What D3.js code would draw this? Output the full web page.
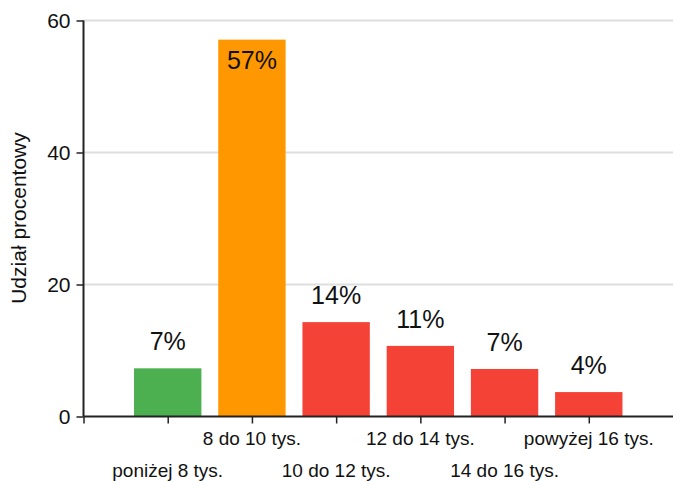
<!DOCTYPE html>
<html>
<head>
<meta charset="utf-8">
<script src="https://cdn.jsdelivr.net/npm/d3@7"></script>
<style>
    body { margin: 0; background: #fff; }
    svg text { font-family: "Liberation Sans", Arial, sans-serif; fill: #111; }
</style>
</head>
<body>
<div id="chart"></div>
<script>
// chart data
const categories = ["poniżej 8 tys.", "8 do 10 tys.", "10 do 12 tys.", "12 do 14 tys.", "14 do 16 tys.", "powyżej 16 tys."];
const shares = [7.3, 57.1, 14.3, 10.7, 7.2, 3.7];
const shareLabels = ["7%", "57%", "14%", "11%", "7%", "4%"];
const barColors = ["#4caf50", "#ff9800", "#f44336", "#f44336", "#f44336", "#f44336"];
const yTicks = [0, 20, 40, 60];

function drawChart() {
    const W = 673, H = 481;
    const margin = { top: 20.5, right: 0, bottom: 64.5, left: 83.5 };
    const width = W - margin.left - margin.right;
    const height = H - margin.top - margin.bottom;

    const svg = d3.select("#chart")
        .append("svg")
        .attr("width", W)
        .attr("height", H)
        .append("g")
        .attr("transform", "translate(" + margin.left + "," + margin.top + ")");

    // categories sit at positions 1..6 on a 0..7 scale
    const xScale = d3.scaleLinear()
        .domain([0, categories.length + 1])
        .range([0, width]);

    const yScale = d3.scaleLinear()
        .domain([0, 60])
        .range([height, 0]);

    const barW = xScale(0.8) - xScale(0);

    // gridlines
    svg.selectAll(".grid")
        .data(yTicks.filter(d => d > 0))
        .enter().append("line")
        .attr("class", "grid")
        .attr("x1", 0)
        .attr("x2", width)
        .attr("y1", d => yScale(d))
        .attr("y2", d => yScale(d))
        .attr("stroke", "#dedede")
        .attr("stroke-width", 2);

    // bars
    svg.selectAll(".bar")
        .data(shares)
        .enter().append("rect")
        .attr("class", "bar")
        .attr("x", (d, i) => xScale(i + 1) - barW / 2)
        .attr("width", barW)
        .attr("y", d => yScale(d))
        .attr("height", d => height - yScale(d))
        .attr("fill", (d, i) => barColors[i]);

    // value labels, the tall one goes inside the bar
    svg.selectAll(".val")
        .data(shares)
        .enter().append("text")
        .attr("class", "val")
        .attr("x", (d, i) => xScale(i + 1))
        .attr("y", d => d > 50 ? yScale(d) + 29 : yScale(d) - 18)
        .attr("text-anchor", "middle")
        .style("font-size", "25px")
        .text((d, i) => shareLabels[i]);

    // y axis
    const yAxis = svg.append("g")
        .call(d3.axisLeft(yScale).tickValues(yTicks).tickSize(7).tickPadding(6));
    yAxis.select(".domain").attr("stroke", "#222").attr("stroke-width", 2).attr("d", "M0," + height + "V0");
    yAxis.selectAll(".tick line").attr("stroke", "#222").attr("stroke-width", 1.5);
    yAxis.selectAll("text").style("font-size", "21px").attr("fill", "#111");

    // x axis
    const xAxis = svg.append("g")
        .attr("transform", "translate(0," + height + ")")
        .call(d3.axisBottom(xScale).tickValues(d3.range(0, categories.length + 1)).tickSize(7).tickFormat(""));
    xAxis.select(".domain").attr("stroke", "#222").attr("stroke-width", 2).attr("d", "M0,0H" + width);
    xAxis.selectAll(".tick line").attr("stroke", "#222").attr("stroke-width", 1.5);

    // staggered category labels
    svg.selectAll(".cat")
        .data(categories)
        .enter().append("text")
        .attr("class", "cat")
        .attr("x", (d, i) => xScale(i + 1))
        .attr("y", (d, i) => i % 2 === 1 ? height + 28 : height + 60)
        .attr("text-anchor", "middle")
        .style("font-size", "19px")
        .text(d => d);

    // y label
    svg.append("text")
        .attr("transform", "rotate(-90)")
        .attr("x", -(218 - margin.top))
        .attr("y", -margin.left + 26)
        .attr("text-anchor", "middle")
        .style("font-size", "21px")
        .text("Udział procentowy");
}

drawChart();
</script>
</body>
</html>
